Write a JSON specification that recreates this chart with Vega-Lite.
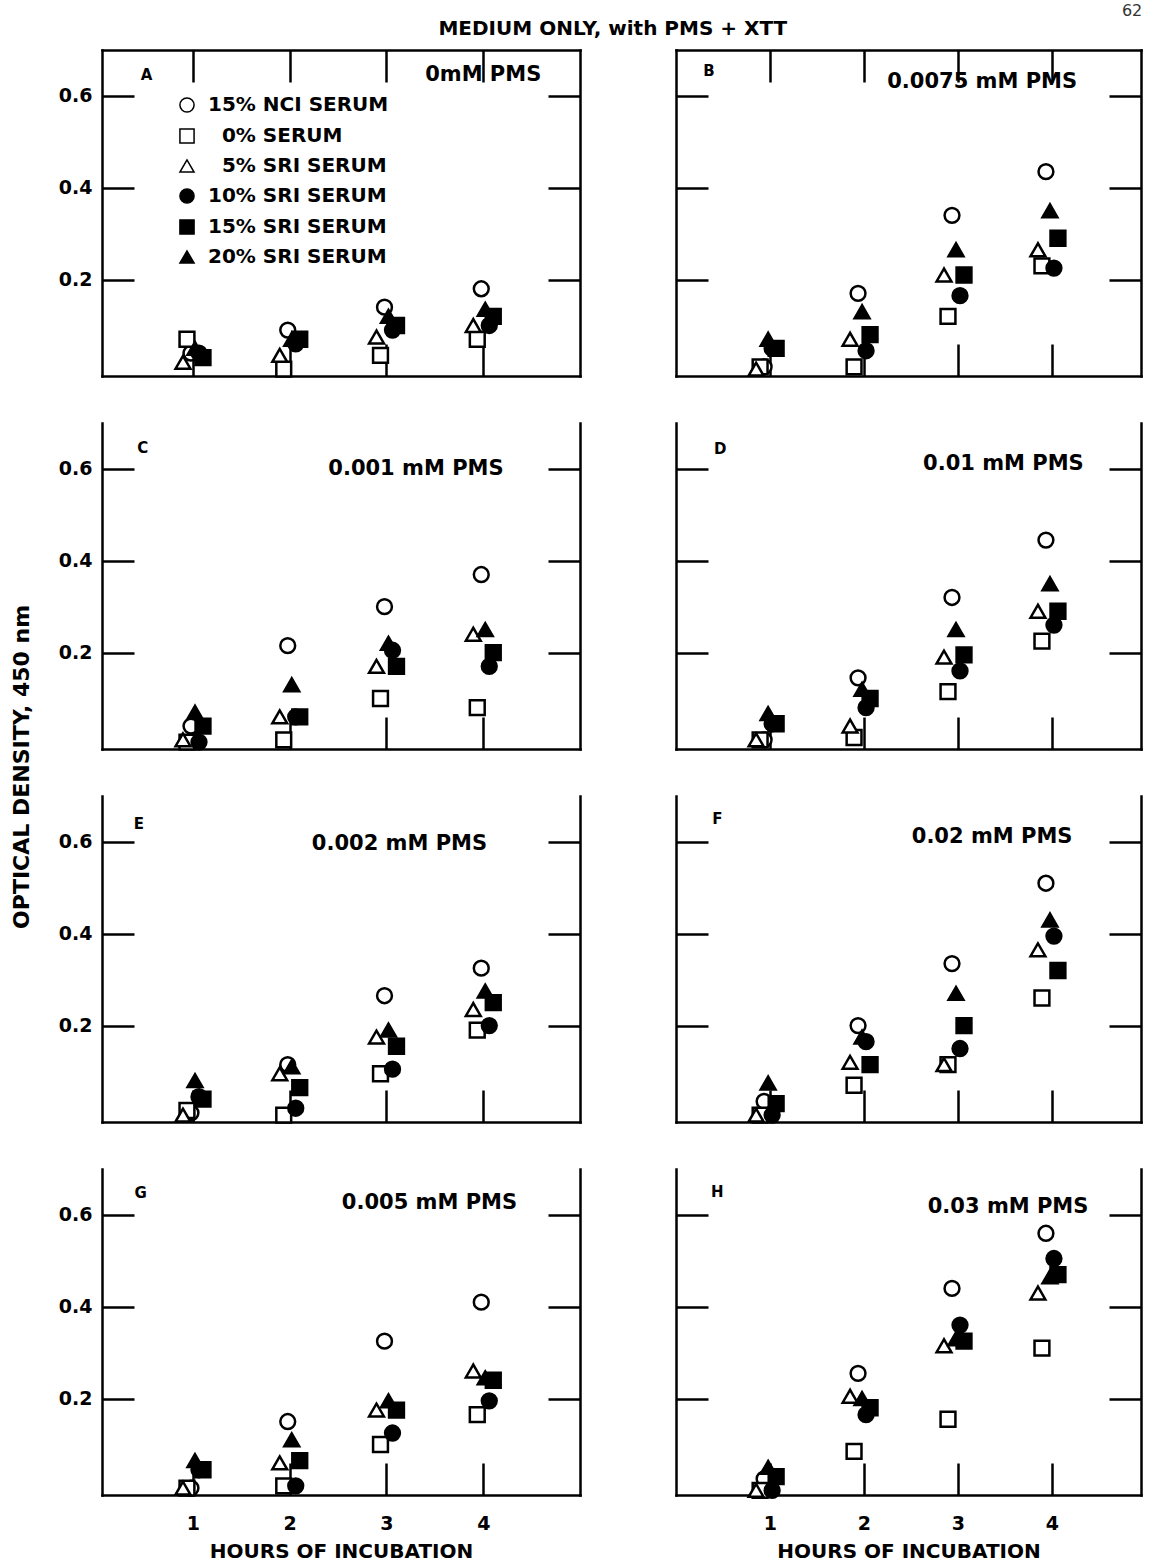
{
"$schema": "https://vega.github.io/schema/vega-lite/v6.json",
"background": "white",
"padding": {"left": 11, "top": 2, "right": 6, "bottom": 4},
"config": {
  "font": "DejaVu Sans",
  "view": {"stroke": null},
  "axis": {"grid": false, "domainColor": "black", "domainWidth": 2.5, "domainCap": "square", "tickColor": "black", "tickWidth": 2.5, "tickSize": -32, "labelFont": "DejaVu Sans", "labelFontWeight": "bold", "labelFontSize": 19, "labelColor": "black", "labelPadding": 42, "titleFont": "DejaVu Sans", "titleFontWeight": "bold", "titleFontSize": 20, "titleColor": "black"},
  "axisBottom": {"labelPadding": 51, "titlePadding": 8},
  "title": {"font": "DejaVu Sans", "fontWeight": "bold", "color": "black"}
},
"datasets": {
  "pts": [
    {"p":"A","h":1,"s":"15% NCI SERUM","v":0.04},{"p":"A","h":1,"s":"0% SERUM","v":0.07},{"p":"A","h":1,"s":"5% SRI SERUM","v":0.02},{"p":"A","h":1,"s":"10% SRI SERUM","v":0.04},{"p":"A","h":1,"s":"15% SRI SERUM","v":0.03},{"p":"A","h":1,"s":"20% SRI SERUM","v":0.05},
    {"p":"A","h":2,"s":"15% NCI SERUM","v":0.09},{"p":"A","h":2,"s":"0% SERUM","v":0.005},{"p":"A","h":2,"s":"5% SRI SERUM","v":0.035},{"p":"A","h":2,"s":"10% SRI SERUM","v":0.06},{"p":"A","h":2,"s":"15% SRI SERUM","v":0.07},{"p":"A","h":2,"s":"20% SRI SERUM","v":0.07},
    {"p":"A","h":3,"s":"15% NCI SERUM","v":0.14},{"p":"A","h":3,"s":"0% SERUM","v":0.035},{"p":"A","h":3,"s":"5% SRI SERUM","v":0.075},{"p":"A","h":3,"s":"10% SRI SERUM","v":0.09},{"p":"A","h":3,"s":"15% SRI SERUM","v":0.10},{"p":"A","h":3,"s":"20% SRI SERUM","v":0.12},
    {"p":"A","h":4,"s":"15% NCI SERUM","v":0.18},{"p":"A","h":4,"s":"0% SERUM","v":0.07},{"p":"A","h":4,"s":"5% SRI SERUM","v":0.10},{"p":"A","h":4,"s":"10% SRI SERUM","v":0.10},{"p":"A","h":4,"s":"15% SRI SERUM","v":0.12},{"p":"A","h":4,"s":"20% SRI SERUM","v":0.135},
    {"p":"B","h":1,"s":"15% NCI SERUM","v":0.01},{"p":"B","h":1,"s":"0% SERUM","v":0.01},{"p":"B","h":1,"s":"5% SRI SERUM","v":0.005},{"p":"B","h":1,"s":"10% SRI SERUM","v":0.05},{"p":"B","h":1,"s":"15% SRI SERUM","v":0.05},{"p":"B","h":1,"s":"20% SRI SERUM","v":0.07},
    {"p":"B","h":2,"s":"15% NCI SERUM","v":0.17},{"p":"B","h":2,"s":"0% SERUM","v":0.01},{"p":"B","h":2,"s":"5% SRI SERUM","v":0.07},{"p":"B","h":2,"s":"10% SRI SERUM","v":0.045},{"p":"B","h":2,"s":"15% SRI SERUM","v":0.08},{"p":"B","h":2,"s":"20% SRI SERUM","v":0.13},
    {"p":"B","h":3,"s":"15% NCI SERUM","v":0.34},{"p":"B","h":3,"s":"0% SERUM","v":0.12},{"p":"B","h":3,"s":"5% SRI SERUM","v":0.21},{"p":"B","h":3,"s":"10% SRI SERUM","v":0.165},{"p":"B","h":3,"s":"15% SRI SERUM","v":0.21},{"p":"B","h":3,"s":"20% SRI SERUM","v":0.265},
    {"p":"B","h":4,"s":"15% NCI SERUM","v":0.435},{"p":"B","h":4,"s":"0% SERUM","v":0.23},{"p":"B","h":4,"s":"5% SRI SERUM","v":0.265},{"p":"B","h":4,"s":"10% SRI SERUM","v":0.225},{"p":"B","h":4,"s":"15% SRI SERUM","v":0.29},{"p":"B","h":4,"s":"20% SRI SERUM","v":0.35},
    {"p":"C","h":1,"s":"15% NCI SERUM","v":0.04},{"p":"C","h":1,"s":"0% SERUM","v":0.005},{"p":"C","h":1,"s":"5% SRI SERUM","v":0.01},{"p":"C","h":1,"s":"10% SRI SERUM","v":0.005},{"p":"C","h":1,"s":"15% SRI SERUM","v":0.04},{"p":"C","h":1,"s":"20% SRI SERUM","v":0.07},
    {"p":"C","h":2,"s":"15% NCI SERUM","v":0.215},{"p":"C","h":2,"s":"0% SERUM","v":0.01},{"p":"C","h":2,"s":"5% SRI SERUM","v":0.06},{"p":"C","h":2,"s":"10% SRI SERUM","v":0.06},{"p":"C","h":2,"s":"15% SRI SERUM","v":0.06},{"p":"C","h":2,"s":"20% SRI SERUM","v":0.13},
    {"p":"C","h":3,"s":"15% NCI SERUM","v":0.30},{"p":"C","h":3,"s":"0% SERUM","v":0.10},{"p":"C","h":3,"s":"5% SRI SERUM","v":0.17},{"p":"C","h":3,"s":"10% SRI SERUM","v":0.205},{"p":"C","h":3,"s":"15% SRI SERUM","v":0.17},{"p":"C","h":3,"s":"20% SRI SERUM","v":0.22},
    {"p":"C","h":4,"s":"15% NCI SERUM","v":0.37},{"p":"C","h":4,"s":"0% SERUM","v":0.08},{"p":"C","h":4,"s":"5% SRI SERUM","v":0.24},{"p":"C","h":4,"s":"10% SRI SERUM","v":0.17},{"p":"C","h":4,"s":"15% SRI SERUM","v":0.20},{"p":"C","h":4,"s":"20% SRI SERUM","v":0.25},
    {"p":"D","h":1,"s":"15% NCI SERUM","v":0.01},{"p":"D","h":1,"s":"0% SERUM","v":0.01},{"p":"D","h":1,"s":"5% SRI SERUM","v":0.01},{"p":"D","h":1,"s":"10% SRI SERUM","v":0.045},{"p":"D","h":1,"s":"15% SRI SERUM","v":0.045},{"p":"D","h":1,"s":"20% SRI SERUM","v":0.067},
    {"p":"D","h":2,"s":"15% NCI SERUM","v":0.145},{"p":"D","h":2,"s":"0% SERUM","v":0.015},{"p":"D","h":2,"s":"5% SRI SERUM","v":0.04},{"p":"D","h":2,"s":"10% SRI SERUM","v":0.08},{"p":"D","h":2,"s":"15% SRI SERUM","v":0.10},{"p":"D","h":2,"s":"20% SRI SERUM","v":0.12},
    {"p":"D","h":3,"s":"15% NCI SERUM","v":0.32},{"p":"D","h":3,"s":"0% SERUM","v":0.115},{"p":"D","h":3,"s":"5% SRI SERUM","v":0.19},{"p":"D","h":3,"s":"10% SRI SERUM","v":0.16},{"p":"D","h":3,"s":"15% SRI SERUM","v":0.195},{"p":"D","h":3,"s":"20% SRI SERUM","v":0.25},
    {"p":"D","h":4,"s":"15% NCI SERUM","v":0.445},{"p":"D","h":4,"s":"0% SERUM","v":0.225},{"p":"D","h":4,"s":"5% SRI SERUM","v":0.29},{"p":"D","h":4,"s":"10% SRI SERUM","v":0.26},{"p":"D","h":4,"s":"15% SRI SERUM","v":0.29},{"p":"D","h":4,"s":"20% SRI SERUM","v":0.35},
    {"p":"E","h":1,"s":"15% NCI SERUM","v":0.01},{"p":"E","h":1,"s":"0% SERUM","v":0.015},{"p":"E","h":1,"s":"5% SRI SERUM","v":0.005},{"p":"E","h":1,"s":"10% SRI SERUM","v":0.045},{"p":"E","h":1,"s":"15% SRI SERUM","v":0.04},{"p":"E","h":1,"s":"20% SRI SERUM","v":0.08},
    {"p":"E","h":2,"s":"15% NCI SERUM","v":0.115},{"p":"E","h":2,"s":"0% SERUM","v":0.005},{"p":"E","h":2,"s":"5% SRI SERUM","v":0.095},{"p":"E","h":2,"s":"10% SRI SERUM","v":0.02},{"p":"E","h":2,"s":"15% SRI SERUM","v":0.065},{"p":"E","h":2,"s":"20% SRI SERUM","v":0.11},
    {"p":"E","h":3,"s":"15% NCI SERUM","v":0.265},{"p":"E","h":3,"s":"0% SERUM","v":0.095},{"p":"E","h":3,"s":"5% SRI SERUM","v":0.175},{"p":"E","h":3,"s":"10% SRI SERUM","v":0.105},{"p":"E","h":3,"s":"15% SRI SERUM","v":0.155},{"p":"E","h":3,"s":"20% SRI SERUM","v":0.19},
    {"p":"E","h":4,"s":"15% NCI SERUM","v":0.325},{"p":"E","h":4,"s":"0% SERUM","v":0.19},{"p":"E","h":4,"s":"5% SRI SERUM","v":0.235},{"p":"E","h":4,"s":"10% SRI SERUM","v":0.20},{"p":"E","h":4,"s":"15% SRI SERUM","v":0.25},{"p":"E","h":4,"s":"20% SRI SERUM","v":0.275},
    {"p":"F","h":1,"s":"15% NCI SERUM","v":0.035},{"p":"F","h":1,"s":"0% SERUM","v":0.005},{"p":"F","h":1,"s":"5% SRI SERUM","v":0.005},{"p":"F","h":1,"s":"10% SRI SERUM","v":0.005},{"p":"F","h":1,"s":"15% SRI SERUM","v":0.03},{"p":"F","h":1,"s":"20% SRI SERUM","v":0.075},
    {"p":"F","h":2,"s":"15% NCI SERUM","v":0.20},{"p":"F","h":2,"s":"0% SERUM","v":0.07},{"p":"F","h":2,"s":"5% SRI SERUM","v":0.12},{"p":"F","h":2,"s":"10% SRI SERUM","v":0.165},{"p":"F","h":2,"s":"15% SRI SERUM","v":0.115},{"p":"F","h":2,"s":"20% SRI SERUM","v":0.175},
    {"p":"F","h":3,"s":"15% NCI SERUM","v":0.335},{"p":"F","h":3,"s":"0% SERUM","v":0.115},{"p":"F","h":3,"s":"5% SRI SERUM","v":0.115},{"p":"F","h":3,"s":"10% SRI SERUM","v":0.15},{"p":"F","h":3,"s":"15% SRI SERUM","v":0.20},{"p":"F","h":3,"s":"20% SRI SERUM","v":0.27},
    {"p":"F","h":4,"s":"15% NCI SERUM","v":0.51},{"p":"F","h":4,"s":"0% SERUM","v":0.26},{"p":"F","h":4,"s":"5% SRI SERUM","v":0.365},{"p":"F","h":4,"s":"10% SRI SERUM","v":0.395},{"p":"F","h":4,"s":"15% SRI SERUM","v":0.32},{"p":"F","h":4,"s":"20% SRI SERUM","v":0.43},
    {"p":"G","h":1,"s":"15% NCI SERUM","v":0.005},{"p":"G","h":1,"s":"0% SERUM","v":0.005},{"p":"G","h":1,"s":"5% SRI SERUM","v":0.005},{"p":"G","h":1,"s":"10% SRI SERUM","v":0.045},{"p":"G","h":1,"s":"15% SRI SERUM","v":0.045},{"p":"G","h":1,"s":"20% SRI SERUM","v":0.065},
    {"p":"G","h":2,"s":"15% NCI SERUM","v":0.15},{"p":"G","h":2,"s":"0% SERUM","v":0.01},{"p":"G","h":2,"s":"5% SRI SERUM","v":0.06},{"p":"G","h":2,"s":"10% SRI SERUM","v":0.01},{"p":"G","h":2,"s":"15% SRI SERUM","v":0.065},{"p":"G","h":2,"s":"20% SRI SERUM","v":0.11},
    {"p":"G","h":3,"s":"15% NCI SERUM","v":0.325},{"p":"G","h":3,"s":"0% SERUM","v":0.10},{"p":"G","h":3,"s":"5% SRI SERUM","v":0.175},{"p":"G","h":3,"s":"10% SRI SERUM","v":0.125},{"p":"G","h":3,"s":"15% SRI SERUM","v":0.175},{"p":"G","h":3,"s":"20% SRI SERUM","v":0.195},
    {"p":"G","h":4,"s":"15% NCI SERUM","v":0.41},{"p":"G","h":4,"s":"0% SERUM","v":0.165},{"p":"G","h":4,"s":"5% SRI SERUM","v":0.26},{"p":"G","h":4,"s":"10% SRI SERUM","v":0.195},{"p":"G","h":4,"s":"15% SRI SERUM","v":0.24},{"p":"G","h":4,"s":"20% SRI SERUM","v":0.245},
    {"p":"H","h":1,"s":"15% NCI SERUM","v":0.025},{"p":"H","h":1,"s":"0% SERUM","v":0.0},{"p":"H","h":1,"s":"5% SRI SERUM","v":0.0},{"p":"H","h":1,"s":"10% SRI SERUM","v":0.0},{"p":"H","h":1,"s":"15% SRI SERUM","v":0.03},{"p":"H","h":1,"s":"20% SRI SERUM","v":0.05},
    {"p":"H","h":2,"s":"15% NCI SERUM","v":0.255},{"p":"H","h":2,"s":"0% SERUM","v":0.085},{"p":"H","h":2,"s":"5% SRI SERUM","v":0.205},{"p":"H","h":2,"s":"10% SRI SERUM","v":0.165},{"p":"H","h":2,"s":"15% SRI SERUM","v":0.18},{"p":"H","h":2,"s":"20% SRI SERUM","v":0.20},
    {"p":"H","h":3,"s":"15% NCI SERUM","v":0.44},{"p":"H","h":3,"s":"0% SERUM","v":0.155},{"p":"H","h":3,"s":"5% SRI SERUM","v":0.315},{"p":"H","h":3,"s":"10% SRI SERUM","v":0.36},{"p":"H","h":3,"s":"15% SRI SERUM","v":0.325},{"p":"H","h":3,"s":"20% SRI SERUM","v":0.33},
    {"p":"H","h":4,"s":"15% NCI SERUM","v":0.56},{"p":"H","h":4,"s":"0% SERUM","v":0.31},{"p":"H","h":4,"s":"5% SRI SERUM","v":0.43},{"p":"H","h":4,"s":"10% SRI SERUM","v":0.505},{"p":"H","h":4,"s":"15% SRI SERUM","v":0.47},{"p":"H","h":4,"s":"20% SRI SERUM","v":0.465}
  ],
  "txt": [
    {"p":"A","k":"letter","h":0.52,"v":0.645,"t":"A"},{"p":"A","k":"pms","h":4.6,"v":0.645,"t":"0mM PMS"},
    {"p":"B","k":"letter","h":0.35,"v":0.655,"t":"B"},{"p":"B","k":"pms","h":4.27,"v":0.63,"t":"0.0075 mM PMS"},
    {"p":"C","k":"letter","h":0.48,"v":0.645,"t":"C"},{"p":"C","k":"pms","h":4.21,"v":0.60,"t":"0.001 mM PMS"},
    {"p":"D","k":"letter","h":0.47,"v":0.643,"t":"D"},{"p":"D","k":"pms","h":4.34,"v":0.61,"t":"0.01 mM PMS"},
    {"p":"E","k":"letter","h":0.44,"v":0.64,"t":"E"},{"p":"E","k":"pms","h":4.04,"v":0.595,"t":"0.002 mM PMS"},
    {"p":"F","k":"letter","h":0.44,"v":0.65,"t":"F"},{"p":"F","k":"pms","h":4.22,"v":0.61,"t":"0.02 mM PMS"},
    {"p":"G","k":"letter","h":0.46,"v":0.647,"t":"G"},{"p":"G","k":"pms","h":4.35,"v":0.625,"t":"0.005 mM PMS"},
    {"p":"H","k":"letter","h":0.44,"v":0.65,"t":"H"},{"p":"H","k":"pms","h":4.39,"v":0.617,"t":"0.03 mM PMS"}
  ]
},
"title": {"text": "62", "anchor": "end", "fontSize": 16, "fontWeight": "normal", "color": "#333333", "offset": 0},
"resolve": {"legend": {"shape": "independent", "fill": "independent"}},
"vconcat": [{
  "title": {"text": "MEDIUM ONLY, with PMS + XTT", "anchor": "middle", "fontSize": 20, "offset": 10, "dx": 36},
  "resolve": {"legend": {"shape": "independent", "fill": "independent"}},
  "vconcat": [{
    "title": {"text": "OPTICAL DENSITY, 450 nm", "orient": "left", "anchor": "middle", "fontSize": 22, "offset": 24, "dx": 38},
    "resolve": {"legend": {"shape": "independent", "fill": "independent"}},
    "spacing": 41,
    "vconcat": [
      {"hconcat": [
        {"width": 478, "height": 326,
         "layer": [
          {"data": {"name": "pts"}, "transform": [{"filter": "datum.p == 'A'"}],
           "mark": {"type": "point", "filled": true, "stroke": "black", "strokeWidth": 2.5, "size": 220, "opacity": 1},
           "encoding": {
             "x": {"field": "h", "type": "ordinal", "scale": {"type": "band", "paddingInner": 0, "paddingOuter": 0.47}, "axis": null},
             "y": {"field": "v", "type": "quantitative", "scale": {"domain": [-0.01, 0.70], "nice": false, "zero": false}, "axis": {"orient": "left", "values": [0.2,0.4,0.6], "format": ".1f", "title": null}},
             "xOffset": {"field": "s", "type": "nominal", "scale": {"type": "point", "padding": 0, "domain": ["5% SRI SERUM","0% SERUM","15% NCI SERUM","20% SRI SERUM","10% SRI SERUM","15% SRI SERUM"], "range": [35.5, 55.5]}},
             "shape": {"field": "s", "type": "nominal", "scale": {"domain": ["15% NCI SERUM","0% SERUM","5% SRI SERUM","10% SRI SERUM","15% SRI SERUM","20% SRI SERUM"], "range": ["circle","square","triangle-up","circle","square","triangle-up"]},
               "legend": {"title": null, "orient": "none", "legendX": 75, "legendY": 45, "labelFont": "DejaVu Sans", "labelFontWeight": "bold", "labelFontSize": 20, "labelColor": "black", "labelLimit": 400, "symbolSize": 200, "rowPadding": 9, "labelOffset": 11, "labelExpr": "(datum.value == '0% SERUM' || datum.value == '5% SRI SERUM') ? '\u200b\u2007' + datum.label : datum.label", "encode": {"symbols": {"update": {"stroke": {"value": "black"}, "strokeWidth": {"value": 2.5}}}}}},
             "fill": {"field": "s", "type": "nominal", "scale": {"domain": ["15% NCI SERUM","0% SERUM","5% SRI SERUM","10% SRI SERUM","15% SRI SERUM","20% SRI SERUM"], "range": ["white","white","white","black","black","black"]},
               "legend": {"title": null, "orient": "none", "legendX": 75, "legendY": 45, "labelFont": "DejaVu Sans", "labelFontWeight": "bold", "labelFontSize": 20, "labelColor": "black", "labelLimit": 400, "symbolSize": 200, "rowPadding": 9, "labelOffset": 11, "labelExpr": "(datum.value == '0% SERUM' || datum.value == '5% SRI SERUM') ? '\u200b\u2007' + datum.label : datum.label", "encode": {"symbols": {"update": {"stroke": {"value": "black"}, "strokeWidth": {"value": 2.5}}}}}}
           }},
          {"data": {"name": "txt"}, "transform": [{"filter": "datum.p == 'A' && datum.k == 'pms'"}],
           "mark": {"type": "text", "align": "right", "baseline": "middle", "fontSize": 21, "fontWeight": "bold", "color": "black"},
           "encoding": {
             "x": {"field": "h", "type": "quantitative", "scale": {"domain": [0.06, 5.0], "nice": false, "zero": false}, "axis": {"orient": "bottom", "values": [1,2,3,4], "labels": false, "title": null}},
             "y": {"field": "v", "type": "quantitative", "axis": {"orient": "right", "values": [0.2,0.4,0.6], "labels": false, "title": null}},
             "text": {"field": "t"}
           }},
          {"data": {"name": "txt"}, "transform": [{"filter": "datum.p == 'A' && datum.k == 'letter'"}],
           "mark": {"type": "text", "align": "center", "baseline": "middle", "fontSize": 15, "fontWeight": "bold", "color": "black"},
           "encoding": {
             "x": {"field": "h", "type": "quantitative", "scale": {"domain": [0.06, 5.0], "nice": false, "zero": false}, "axis": {"orient": "top", "values": [1,2,3,4], "labels": false, "title": null}},
             "y": {"field": "v", "type": "quantitative", "axis": null},
             "text": {"field": "t"}
           }}
         ],
         "resolve": {"scale": {"x": "independent"}, "axis": {"x": "independent", "y": "independent"}}
        },
        {"width": 465, "height": 326,
         "layer": [
          {"data": {"name": "pts"}, "transform": [{"filter": "datum.p == 'B'"}],
           "mark": {"type": "point", "filled": true, "stroke": "black", "strokeWidth": 2.5, "size": 220, "opacity": 1},
           "encoding": {
             "x": {"field": "h", "type": "ordinal", "scale": {"type": "band", "paddingInner": 0, "paddingOuter": 0.475}, "axis": null},
             "y": {"field": "v", "type": "quantitative", "scale": {"domain": [-0.01, 0.70], "nice": false, "zero": false}, "axis": {"orient": "left", "values": [0.2,0.4,0.6], "labels": false, "title": null}},
             "xOffset": {"field": "s", "type": "nominal", "scale": {"type": "point", "padding": 0, "domain": ["5% SRI SERUM","0% SERUM","15% NCI SERUM","20% SRI SERUM","10% SRI SERUM","15% SRI SERUM"], "range": [39, 59]}},
             "shape": {"field": "s", "type": "nominal", "scale": {"domain": ["15% NCI SERUM","0% SERUM","5% SRI SERUM","10% SRI SERUM","15% SRI SERUM","20% SRI SERUM"], "range": ["circle","square","triangle-up","circle","square","triangle-up"]}, "legend": null},
             "fill": {"field": "s", "type": "nominal", "scale": {"domain": ["15% NCI SERUM","0% SERUM","5% SRI SERUM","10% SRI SERUM","15% SRI SERUM","20% SRI SERUM"], "range": ["white","white","white","black","black","black"]}, "legend": null}
           }},
          {"data": {"name": "txt"}, "transform": [{"filter": "datum.p == 'B' && datum.k == 'pms'"}],
           "mark": {"type": "text", "align": "right", "baseline": "middle", "fontSize": 21, "fontWeight": "bold", "color": "black"},
           "encoding": {
             "x": {"field": "h", "type": "quantitative", "scale": {"domain": [0, 4.95], "nice": false, "zero": false}, "axis": {"orient": "bottom", "values": [1,2,3,4], "labels": false, "title": null}},
             "y": {"field": "v", "type": "quantitative", "axis": {"orient": "right", "values": [0.2,0.4,0.6], "labels": false, "title": null}},
             "text": {"field": "t"}
           }},
          {"data": {"name": "txt"}, "transform": [{"filter": "datum.p == 'B' && datum.k == 'letter'"}],
           "mark": {"type": "text", "align": "center", "baseline": "middle", "fontSize": 15, "fontWeight": "bold", "color": "black"},
           "encoding": {
             "x": {"field": "h", "type": "quantitative", "scale": {"domain": [0, 4.95], "nice": false, "zero": false}, "axis": {"orient": "top", "values": [1,2,3,4], "labels": false, "title": null}},
             "y": {"field": "v", "type": "quantitative", "axis": null},
             "text": {"field": "t"}
           }}
         ],
         "resolve": {"scale": {"x": "independent"}, "axis": {"x": "independent", "y": "independent"}}
        }
      ], "spacing": 92, "resolve": {"legend": {"shape": "independent", "fill": "independent"}}},
      {"hconcat": [
        {"width": 478, "height": 326,
         "layer": [
          {"data": {"name": "pts"}, "transform": [{"filter": "datum.p == 'C'"}],
           "mark": {"type": "point", "filled": true, "stroke": "black", "strokeWidth": 2.5, "size": 220, "opacity": 1},
           "encoding": {
             "x": {"field": "h", "type": "ordinal", "scale": {"type": "band", "paddingInner": 0, "paddingOuter": 0.47}, "axis": null},
             "y": {"field": "v", "type": "quantitative", "scale": {"domain": [-0.01, 0.70], "nice": false, "zero": false}, "axis": {"orient": "left", "values": [0.2,0.4,0.6], "format": ".1f", "title": null}},
             "xOffset": {"field": "s", "type": "nominal", "scale": {"type": "point", "padding": 0, "domain": ["5% SRI SERUM","0% SERUM","15% NCI SERUM","20% SRI SERUM","10% SRI SERUM","15% SRI SERUM"], "range": [35.5, 55.5]}},
             "shape": {"field": "s", "type": "nominal", "scale": {"domain": ["15% NCI SERUM","0% SERUM","5% SRI SERUM","10% SRI SERUM","15% SRI SERUM","20% SRI SERUM"], "range": ["circle","square","triangle-up","circle","square","triangle-up"]}, "legend": null},
             "fill": {"field": "s", "type": "nominal", "scale": {"domain": ["15% NCI SERUM","0% SERUM","5% SRI SERUM","10% SRI SERUM","15% SRI SERUM","20% SRI SERUM"], "range": ["white","white","white","black","black","black"]}, "legend": null}
           }},
          {"data": {"name": "txt"}, "transform": [{"filter": "datum.p == 'C' && datum.k == 'pms'"}],
           "mark": {"type": "text", "align": "right", "baseline": "middle", "fontSize": 21, "fontWeight": "bold", "color": "black"},
           "encoding": {
             "x": {"field": "h", "type": "quantitative", "scale": {"domain": [0.06, 5.0], "nice": false, "zero": false}, "axis": {"orient": "bottom", "values": [1,2,3,4], "labels": false, "title": null}},
             "y": {"field": "v", "type": "quantitative", "axis": {"orient": "right", "values": [0.2,0.4,0.6], "labels": false, "title": null}},
             "text": {"field": "t"}
           }},
          {"data": {"name": "txt"}, "transform": [{"filter": "datum.p == 'C' && datum.k == 'letter'"}],
           "mark": {"type": "text", "align": "center", "baseline": "middle", "fontSize": 15, "fontWeight": "bold", "color": "black"},
           "encoding": {
             "x": {"field": "h", "type": "quantitative", "scale": {"domain": [0.06, 5.0], "nice": false, "zero": false}, "axis": null},
             "y": {"field": "v", "type": "quantitative", "axis": null},
             "text": {"field": "t"}
           }}
         ],
         "resolve": {"scale": {"x": "independent"}, "axis": {"x": "independent", "y": "independent"}}
        },
        {"width": 465, "height": 326,
         "layer": [
          {"data": {"name": "pts"}, "transform": [{"filter": "datum.p == 'D'"}],
           "mark": {"type": "point", "filled": true, "stroke": "black", "strokeWidth": 2.5, "size": 220, "opacity": 1},
           "encoding": {
             "x": {"field": "h", "type": "ordinal", "scale": {"type": "band", "paddingInner": 0, "paddingOuter": 0.475}, "axis": null},
             "y": {"field": "v", "type": "quantitative", "scale": {"domain": [-0.01, 0.70], "nice": false, "zero": false}, "axis": {"orient": "left", "values": [0.2,0.4,0.6], "labels": false, "title": null}},
             "xOffset": {"field": "s", "type": "nominal", "scale": {"type": "point", "padding": 0, "domain": ["5% SRI SERUM","0% SERUM","15% NCI SERUM","20% SRI SERUM","10% SRI SERUM","15% SRI SERUM"], "range": [39, 59]}},
             "shape": {"field": "s", "type": "nominal", "scale": {"domain": ["15% NCI SERUM","0% SERUM","5% SRI SERUM","10% SRI SERUM","15% SRI SERUM","20% SRI SERUM"], "range": ["circle","square","triangle-up","circle","square","triangle-up"]}, "legend": null},
             "fill": {"field": "s", "type": "nominal", "scale": {"domain": ["15% NCI SERUM","0% SERUM","5% SRI SERUM","10% SRI SERUM","15% SRI SERUM","20% SRI SERUM"], "range": ["white","white","white","black","black","black"]}, "legend": null}
           }},
          {"data": {"name": "txt"}, "transform": [{"filter": "datum.p == 'D' && datum.k == 'pms'"}],
           "mark": {"type": "text", "align": "right", "baseline": "middle", "fontSize": 21, "fontWeight": "bold", "color": "black"},
           "encoding": {
             "x": {"field": "h", "type": "quantitative", "scale": {"domain": [0, 4.95], "nice": false, "zero": false}, "axis": {"orient": "bottom", "values": [1,2,3,4], "labels": false, "title": null}},
             "y": {"field": "v", "type": "quantitative", "axis": {"orient": "right", "values": [0.2,0.4,0.6], "labels": false, "title": null}},
             "text": {"field": "t"}
           }},
          {"data": {"name": "txt"}, "transform": [{"filter": "datum.p == 'D' && datum.k == 'letter'"}],
           "mark": {"type": "text", "align": "center", "baseline": "middle", "fontSize": 15, "fontWeight": "bold", "color": "black"},
           "encoding": {
             "x": {"field": "h", "type": "quantitative", "scale": {"domain": [0, 4.95], "nice": false, "zero": false}, "axis": null},
             "y": {"field": "v", "type": "quantitative", "axis": null},
             "text": {"field": "t"}
           }}
         ],
         "resolve": {"scale": {"x": "independent"}, "axis": {"x": "independent", "y": "independent"}}
        }
      ], "spacing": 92, "resolve": {"legend": {"shape": "independent", "fill": "independent"}}},
      {"hconcat": [
        {"width": 478, "height": 326,
         "layer": [
          {"data": {"name": "pts"}, "transform": [{"filter": "datum.p == 'E'"}],
           "mark": {"type": "point", "filled": true, "stroke": "black", "strokeWidth": 2.5, "size": 220, "opacity": 1},
           "encoding": {
             "x": {"field": "h", "type": "ordinal", "scale": {"type": "band", "paddingInner": 0, "paddingOuter": 0.47}, "axis": null},
             "y": {"field": "v", "type": "quantitative", "scale": {"domain": [-0.01, 0.70], "nice": false, "zero": false}, "axis": {"orient": "left", "values": [0.2,0.4,0.6], "format": ".1f", "title": null}},
             "xOffset": {"field": "s", "type": "nominal", "scale": {"type": "point", "padding": 0, "domain": ["5% SRI SERUM","0% SERUM","15% NCI SERUM","20% SRI SERUM","10% SRI SERUM","15% SRI SERUM"], "range": [35.5, 55.5]}},
             "shape": {"field": "s", "type": "nominal", "scale": {"domain": ["15% NCI SERUM","0% SERUM","5% SRI SERUM","10% SRI SERUM","15% SRI SERUM","20% SRI SERUM"], "range": ["circle","square","triangle-up","circle","square","triangle-up"]}, "legend": null},
             "fill": {"field": "s", "type": "nominal", "scale": {"domain": ["15% NCI SERUM","0% SERUM","5% SRI SERUM","10% SRI SERUM","15% SRI SERUM","20% SRI SERUM"], "range": ["white","white","white","black","black","black"]}, "legend": null}
           }},
          {"data": {"name": "txt"}, "transform": [{"filter": "datum.p == 'E' && datum.k == 'pms'"}],
           "mark": {"type": "text", "align": "right", "baseline": "middle", "fontSize": 21, "fontWeight": "bold", "color": "black"},
           "encoding": {
             "x": {"field": "h", "type": "quantitative", "scale": {"domain": [0.06, 5.0], "nice": false, "zero": false}, "axis": {"orient": "bottom", "values": [1,2,3,4], "labels": false, "title": null}},
             "y": {"field": "v", "type": "quantitative", "axis": {"orient": "right", "values": [0.2,0.4,0.6], "labels": false, "title": null}},
             "text": {"field": "t"}
           }},
          {"data": {"name": "txt"}, "transform": [{"filter": "datum.p == 'E' && datum.k == 'letter'"}],
           "mark": {"type": "text", "align": "center", "baseline": "middle", "fontSize": 15, "fontWeight": "bold", "color": "black"},
           "encoding": {
             "x": {"field": "h", "type": "quantitative", "scale": {"domain": [0.06, 5.0], "nice": false, "zero": false}, "axis": null},
             "y": {"field": "v", "type": "quantitative", "axis": null},
             "text": {"field": "t"}
           }}
         ],
         "resolve": {"scale": {"x": "independent"}, "axis": {"x": "independent", "y": "independent"}}
        },
        {"width": 465, "height": 326,
         "layer": [
          {"data": {"name": "pts"}, "transform": [{"filter": "datum.p == 'F'"}],
           "mark": {"type": "point", "filled": true, "stroke": "black", "strokeWidth": 2.5, "size": 220, "opacity": 1},
           "encoding": {
             "x": {"field": "h", "type": "ordinal", "scale": {"type": "band", "paddingInner": 0, "paddingOuter": 0.475}, "axis": null},
             "y": {"field": "v", "type": "quantitative", "scale": {"domain": [-0.01, 0.70], "nice": false, "zero": false}, "axis": {"orient": "left", "values": [0.2,0.4,0.6], "labels": false, "title": null}},
             "xOffset": {"field": "s", "type": "nominal", "scale": {"type": "point", "padding": 0, "domain": ["5% SRI SERUM","0% SERUM","15% NCI SERUM","20% SRI SERUM","10% SRI SERUM","15% SRI SERUM"], "range": [39, 59]}},
             "shape": {"field": "s", "type": "nominal", "scale": {"domain": ["15% NCI SERUM","0% SERUM","5% SRI SERUM","10% SRI SERUM","15% SRI SERUM","20% SRI SERUM"], "range": ["circle","square","triangle-up","circle","square","triangle-up"]}, "legend": null},
             "fill": {"field": "s", "type": "nominal", "scale": {"domain": ["15% NCI SERUM","0% SERUM","5% SRI SERUM","10% SRI SERUM","15% SRI SERUM","20% SRI SERUM"], "range": ["white","white","white","black","black","black"]}, "legend": null}
           }},
          {"data": {"name": "txt"}, "transform": [{"filter": "datum.p == 'F' && datum.k == 'pms'"}],
           "mark": {"type": "text", "align": "right", "baseline": "middle", "fontSize": 21, "fontWeight": "bold", "color": "black"},
           "encoding": {
             "x": {"field": "h", "type": "quantitative", "scale": {"domain": [0, 4.95], "nice": false, "zero": false}, "axis": {"orient": "bottom", "values": [1,2,3,4], "labels": false, "title": null}},
             "y": {"field": "v", "type": "quantitative", "axis": {"orient": "right", "values": [0.2,0.4,0.6], "labels": false, "title": null}},
             "text": {"field": "t"}
           }},
          {"data": {"name": "txt"}, "transform": [{"filter": "datum.p == 'F' && datum.k == 'letter'"}],
           "mark": {"type": "text", "align": "center", "baseline": "middle", "fontSize": 15, "fontWeight": "bold", "color": "black"},
           "encoding": {
             "x": {"field": "h", "type": "quantitative", "scale": {"domain": [0, 4.95], "nice": false, "zero": false}, "axis": null},
             "y": {"field": "v", "type": "quantitative", "axis": null},
             "text": {"field": "t"}
           }}
         ],
         "resolve": {"scale": {"x": "independent"}, "axis": {"x": "independent", "y": "independent"}}
        }
      ], "spacing": 92, "resolve": {"legend": {"shape": "independent", "fill": "independent"}}},
      {"hconcat": [
        {"width": 478, "height": 326,
         "layer": [
          {"data": {"name": "pts"}, "transform": [{"filter": "datum.p == 'G'"}],
           "mark": {"type": "point", "filled": true, "stroke": "black", "strokeWidth": 2.5, "size": 220, "opacity": 1},
           "encoding": {
             "x": {"field": "h", "type": "ordinal", "scale": {"type": "band", "paddingInner": 0, "paddingOuter": 0.47}, "axis": null},
             "y": {"field": "v", "type": "quantitative", "scale": {"domain": [-0.01, 0.70], "nice": false, "zero": false}, "axis": {"orient": "left", "values": [0.2,0.4,0.6], "format": ".1f", "title": null}},
             "xOffset": {"field": "s", "type": "nominal", "scale": {"type": "point", "padding": 0, "domain": ["5% SRI SERUM","0% SERUM","15% NCI SERUM","20% SRI SERUM","10% SRI SERUM","15% SRI SERUM"], "range": [35.5, 55.5]}},
             "shape": {"field": "s", "type": "nominal", "scale": {"domain": ["15% NCI SERUM","0% SERUM","5% SRI SERUM","10% SRI SERUM","15% SRI SERUM","20% SRI SERUM"], "range": ["circle","square","triangle-up","circle","square","triangle-up"]}, "legend": null},
             "fill": {"field": "s", "type": "nominal", "scale": {"domain": ["15% NCI SERUM","0% SERUM","5% SRI SERUM","10% SRI SERUM","15% SRI SERUM","20% SRI SERUM"], "range": ["white","white","white","black","black","black"]}, "legend": null}
           }},
          {"data": {"name": "txt"}, "transform": [{"filter": "datum.p == 'G' && datum.k == 'pms'"}],
           "mark": {"type": "text", "align": "right", "baseline": "middle", "fontSize": 21, "fontWeight": "bold", "color": "black"},
           "encoding": {
             "x": {"field": "h", "type": "quantitative", "scale": {"domain": [0.06, 5.0], "nice": false, "zero": false}, "axis": {"orient": "bottom", "values": [1,2,3,4], "format": "d", "title": "HOURS OF INCUBATION"}},
             "y": {"field": "v", "type": "quantitative", "axis": {"orient": "right", "values": [0.2,0.4,0.6], "labels": false, "title": null}},
             "text": {"field": "t"}
           }},
          {"data": {"name": "txt"}, "transform": [{"filter": "datum.p == 'G' && datum.k == 'letter'"}],
           "mark": {"type": "text", "align": "center", "baseline": "middle", "fontSize": 15, "fontWeight": "bold", "color": "black"},
           "encoding": {
             "x": {"field": "h", "type": "quantitative", "scale": {"domain": [0.06, 5.0], "nice": false, "zero": false}, "axis": null},
             "y": {"field": "v", "type": "quantitative", "axis": null},
             "text": {"field": "t"}
           }}
         ],
         "resolve": {"scale": {"x": "independent"}, "axis": {"x": "independent", "y": "independent"}}
        },
        {"width": 465, "height": 326,
         "layer": [
          {"data": {"name": "pts"}, "transform": [{"filter": "datum.p == 'H'"}],
           "mark": {"type": "point", "filled": true, "stroke": "black", "strokeWidth": 2.5, "size": 220, "opacity": 1},
           "encoding": {
             "x": {"field": "h", "type": "ordinal", "scale": {"type": "band", "paddingInner": 0, "paddingOuter": 0.475}, "axis": null},
             "y": {"field": "v", "type": "quantitative", "scale": {"domain": [-0.01, 0.70], "nice": false, "zero": false}, "axis": {"orient": "left", "values": [0.2,0.4,0.6], "labels": false, "title": null}},
             "xOffset": {"field": "s", "type": "nominal", "scale": {"type": "point", "padding": 0, "domain": ["5% SRI SERUM","0% SERUM","15% NCI SERUM","20% SRI SERUM","10% SRI SERUM","15% SRI SERUM"], "range": [39, 59]}},
             "shape": {"field": "s", "type": "nominal", "scale": {"domain": ["15% NCI SERUM","0% SERUM","5% SRI SERUM","10% SRI SERUM","15% SRI SERUM","20% SRI SERUM"], "range": ["circle","square","triangle-up","circle","square","triangle-up"]}, "legend": null},
             "fill": {"field": "s", "type": "nominal", "scale": {"domain": ["15% NCI SERUM","0% SERUM","5% SRI SERUM","10% SRI SERUM","15% SRI SERUM","20% SRI SERUM"], "range": ["white","white","white","black","black","black"]}, "legend": null}
           }},
          {"data": {"name": "txt"}, "transform": [{"filter": "datum.p == 'H' && datum.k == 'pms'"}],
           "mark": {"type": "text", "align": "right", "baseline": "middle", "fontSize": 21, "fontWeight": "bold", "color": "black"},
           "encoding": {
             "x": {"field": "h", "type": "quantitative", "scale": {"domain": [0, 4.95], "nice": false, "zero": false}, "axis": {"orient": "bottom", "values": [1,2,3,4], "format": "d", "title": "HOURS OF INCUBATION"}},
             "y": {"field": "v", "type": "quantitative", "axis": {"orient": "right", "values": [0.2,0.4,0.6], "labels": false, "title": null}},
             "text": {"field": "t"}
           }},
          {"data": {"name": "txt"}, "transform": [{"filter": "datum.p == 'H' && datum.k == 'letter'"}],
           "mark": {"type": "text", "align": "center", "baseline": "middle", "fontSize": 15, "fontWeight": "bold", "color": "black"},
           "encoding": {
             "x": {"field": "h", "type": "quantitative", "scale": {"domain": [0, 4.95], "nice": false, "zero": false}, "axis": null},
             "y": {"field": "v", "type": "quantitative", "axis": null},
             "text": {"field": "t"}
           }}
         ],
         "resolve": {"scale": {"x": "independent"}, "axis": {"x": "independent", "y": "independent"}}
        }
      ], "spacing": 92, "resolve": {"legend": {"shape": "independent", "fill": "independent"}}}
    ]
  }]
}]
}
